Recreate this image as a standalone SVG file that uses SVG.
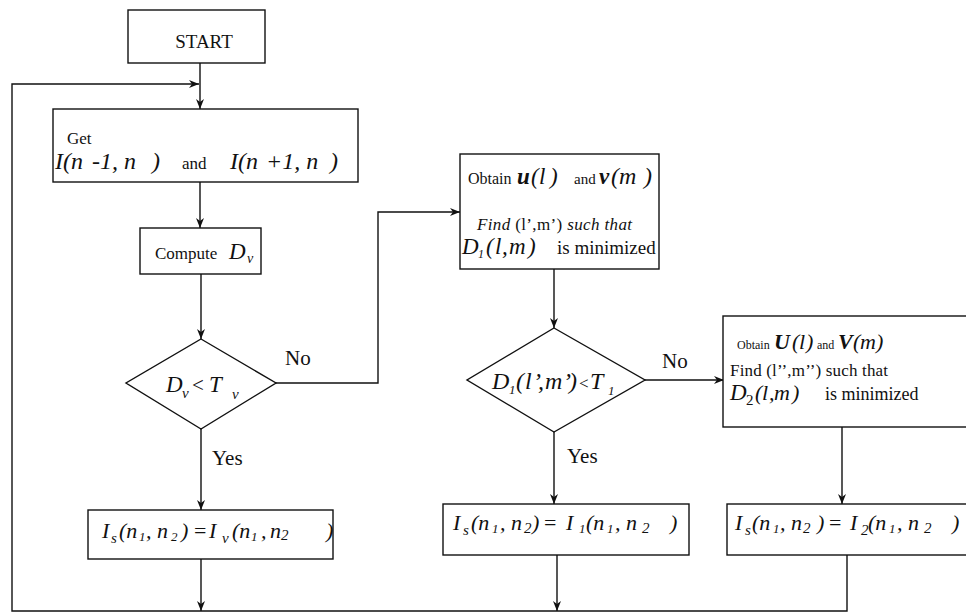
<svg xmlns="http://www.w3.org/2000/svg" width="966" height="614" viewBox="0 0 966 614">
<defs>
<marker id="arr" viewBox="0 0 10 8" refX="10" refY="4" markerWidth="10" markerHeight="8" markerUnits="userSpaceOnUse" orient="auto">
<path d="M0,0 L10,4 L0,8 L3,4 Z" fill="#111"/>
</marker>
<style>
.box{fill:#fff;stroke:#111;stroke-width:1.4}
.ln{fill:none;stroke:#111;stroke-width:1.4}
.t{font-family:"Liberation Serif","Times New Roman",serif;fill:#111}
.i{font-style:italic}
.bi{font-style:italic;font-weight:bold}
</style>
</defs>
<rect width="966" height="614" fill="#fff"/>

<g id="connectors">
<line class="ln" x1="200" y1="63" x2="200" y2="109" marker-end="url(#arr)"/>
<polyline class="ln" points="847,555 847,611 12,611 12,84 199,84" marker-end="url(#arr)"/>
<line class="ln" x1="200" y1="182" x2="200" y2="228" marker-end="url(#arr)"/>
<line class="ln" x1="201" y1="274" x2="201" y2="339" marker-end="url(#arr)"/>
<polyline class="ln" points="276,383 378,383 378,212 460,212" marker-end="url(#arr)"/>
<line class="ln" x1="201" y1="429" x2="201" y2="510" marker-end="url(#arr)"/>
<line class="ln" x1="201" y1="559" x2="201" y2="611" marker-end="url(#arr)"/>
<line class="ln" x1="554" y1="269" x2="554" y2="328" marker-end="url(#arr)"/>
<line class="ln" x1="645" y1="380" x2="724" y2="380" marker-end="url(#arr)"/>
<line class="ln" x1="554" y1="432" x2="554" y2="504" marker-end="url(#arr)"/>
<line class="ln" x1="842" y1="427" x2="842" y2="504" marker-end="url(#arr)"/>
<line class="ln" x1="557" y1="555" x2="557" y2="611" marker-end="url(#arr)"/>
<text class="t" x="285" y="365" font-size="21">No</text>
<text class="t" x="212" y="465" font-size="21">Yes</text>
<text class="t" x="662" y="368" font-size="21">No</text>
<text class="t" x="567" y="463" font-size="21">Yes</text>
</g>

<g id="start">
<rect class="box" x="128" y="10" width="137" height="53"/>
<text class="t" x="204" y="48" font-size="19" text-anchor="middle">START</text>
</g>

<g id="get">
<rect class="box" x="53" y="109" width="305" height="73"/>
<text class="t" x="67" y="144" font-size="17">Get</text>
<text class="t i" y="169" font-size="24"><tspan x="55">I(n</tspan><tspan x="92">-1, n</tspan><tspan x="152">)</tspan><tspan x="182" font-size="17" font-style="normal">and</tspan><tspan x="230">I(n</tspan><tspan x="266">+1, n</tspan><tspan x="330">)</tspan></text>
</g>

<g id="compute">
<rect class="box" x="140" y="228" width="121" height="46"/>
<text class="t" y="259" font-size="17"><tspan x="155">Compute</tspan><tspan x="229" font-size="23" font-style="italic">D</tspan><tspan x="247" dy="4" font-size="14" font-style="italic">ν</tspan></text>
</g>

<g id="dec1">
<polygon class="box" points="201,339 276,383 201,429 126,383"/>
<text class="t i" y="392" font-size="23"><tspan x="166">D</tspan><tspan x="182" dy="6" font-size="15">ν</tspan><tspan x="192" dy="-6" font-style="normal" font-size="21">&lt;</tspan><tspan x="209">T</tspan><tspan x="232" dy="7" font-size="15">ν</tspan></text>
</g>

<g id="iv">
<rect class="box" x="88" y="510" width="245" height="49"/>
<text class="t i" y="538" font-size="22"><tspan x="102">I</tspan><tspan x="111" dy="5" font-size="15">s</tspan><tspan x="119" dy="-5">(n</tspan><tspan x="139" dy="3" font-size="13">1</tspan><tspan x="146" dy="-3">, n</tspan><tspan x="171" dy="3" font-size="13">2</tspan><tspan x="181" dy="-3">)</tspan><tspan x="194" font-style="normal">=</tspan><tspan x="209">I</tspan><tspan x="222" dy="5" font-size="15">v</tspan><tspan x="232" dy="-5">(n</tspan><tspan x="251" dy="3" font-size="13">1</tspan><tspan x="261" dy="-3">,</tspan><tspan x="270">n</tspan><tspan x="281" dy="2" font-size="15">2</tspan><tspan x="326" dy="-2">)</tspan></text>
</g>

<g id="obtain1">
<rect class="box" x="460" y="154" width="199" height="115"/>
<text class="t" y="184" font-size="16"><tspan x="468">Obtain</tspan><tspan x="517" font-size="23" class="bi">u</tspan><tspan x="531 539 550" font-size="23" font-style="italic">(l)</tspan><tspan x="574" font-size="15">and</tspan><tspan x="599" font-size="23" class="bi">v</tspan><tspan x="611 619 644" font-size="24" font-style="italic">(m)</tspan></text>
<text class="t" x="477" y="230" font-size="17" textLength="155" lengthAdjust="spacing"><tspan font-style="italic">Find</tspan> (l’,m’) <tspan font-style="italic">such that</tspan></text>
<text class="t" y="254" font-size="19"><tspan x="462" font-size="23" font-style="italic">D</tspan><tspan x="478" dy="4" font-size="12" font-style="italic">1</tspan><tspan x="486 495 502 509 528" dy="-4" font-size="23" font-style="italic">(l,m)</tspan><tspan x="557">is minimized</tspan></text>
</g>

<g id="dec2">
<polygon class="box" points="554,328 645,380 554,432 467,380"/>
<text class="t i" y="389" font-size="24"><tspan x="492">D</tspan><tspan x="509" dy="5" font-size="13">1</tspan><tspan x="516 525 533 538 545 563 569" dy="-5">(l’,m’)</tspan><tspan x="579" font-style="normal" font-size="17">&lt;</tspan><tspan x="590">T</tspan><tspan x="608" dy="6" font-size="13">1</tspan></text>
</g>

<g id="obtain2">
<rect class="box" x="723" y="316" width="250" height="111"/>
<text class="t" y="349" font-size="12"><tspan x="737">Obtain</tspan><tspan x="774" font-size="22" class="bi">U</tspan><tspan x="792 799 806" font-size="22" font-style="italic">(l)</tspan><tspan x="817">and</tspan><tspan x="838" font-size="22" class="bi">V</tspan><tspan x="853 860 876" font-size="22" font-style="italic">(m)</tspan></text>
<text class="t" x="730" y="376" font-size="17" textLength="158" lengthAdjust="spacing">Find (l’’,m’’) such that</text>
<text class="t" y="400" font-size="18"><tspan x="730" font-size="23" font-style="italic">D</tspan><tspan x="746" dy="5" font-size="15">2</tspan><tspan x="755 762 769 774 792" dy="-5" font-size="22" font-style="italic">(l,m)</tspan><tspan x="825">is minimized</tspan></text>
</g>

<g id="i1">
<rect class="box" x="443" y="504" width="246" height="51"/>
<text class="t i" y="530" font-size="22"><tspan x="453">I</tspan><tspan x="463" dy="5" font-size="15">s</tspan><tspan x="471" dy="-5">(n</tspan><tspan x="492" dy="3" font-size="13">1</tspan><tspan x="500" dy="-3">, n</tspan><tspan x="524" dy="3" font-size="15">2</tspan><tspan x="532" dy="-3">)</tspan><tspan x="544" font-style="normal">=</tspan><tspan x="566">I</tspan><tspan x="579" dy="3" font-size="13">1</tspan><tspan x="586" dy="-3">(n</tspan><tspan x="607" dy="3" font-size="13">1</tspan><tspan x="615" dy="-3">, n</tspan><tspan x="642" dy="3" font-size="15">2</tspan><tspan x="670" dy="-3">)</tspan></text>
</g>

<g id="i2">
<rect class="box" x="727" y="504" width="250" height="51"/>
<text class="t i" y="530" font-size="22"><tspan x="735">I</tspan><tspan x="745" dy="5" font-size="15">s</tspan><tspan x="752" dy="-5">(n</tspan><tspan x="773" dy="3" font-size="13">1</tspan><tspan x="780" dy="-3">, n</tspan><tspan x="803" dy="3" font-size="15">2</tspan><tspan x="817" dy="-3">)</tspan><tspan x="829" font-style="normal">=</tspan><tspan x="850">I</tspan><tspan x="861" dy="5" font-size="15">2</tspan><tspan x="868" dy="-5">(n</tspan><tspan x="889" dy="3" font-size="13">1</tspan><tspan x="897" dy="-3">, n</tspan><tspan x="924" dy="3" font-size="15">2</tspan><tspan x="952" dy="-3">)</tspan></text>
</g>
</svg>
